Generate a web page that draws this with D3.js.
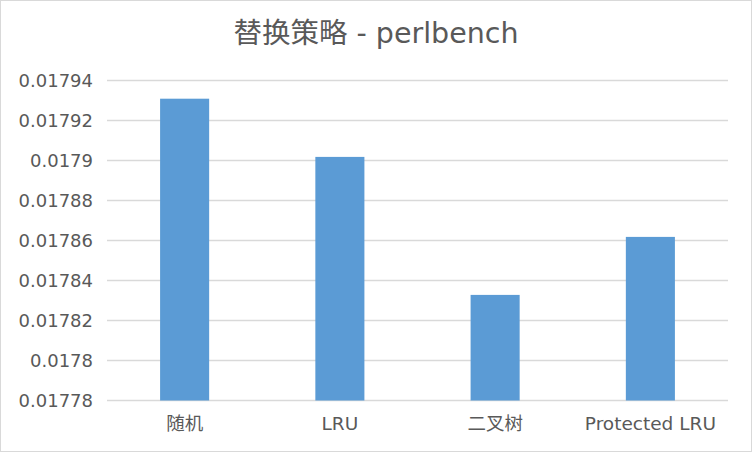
<!DOCTYPE html>
<html>
<head>
<meta charset="utf-8">
<script src="https://cdn.jsdelivr.net/npm/d3@7"></script>
<style>
  body { margin: 0; background: #fff; }
  svg text { font-family: "DejaVu Sans", "Noto Sans CJK SC", sans-serif; fill: #595959; }
</style>
</head>
<body>
<svg width="752" height="452"></svg>
<script>
var title = "替换策略 - perlbench";
var categories = ["随机", "LRU", "二叉树", "Protected LRU"];
var values = [0.0179309, 0.0179018, 0.0178328, 0.0178618];
var yTicks = [0.01778, 0.0178, 0.01782, 0.01784, 0.01786, 0.01788, 0.0179, 0.01792, 0.01794];

var svg = d3.select("svg");
var margin = {top: 80.5, right: 24, bottom: 51.5, left: 107};
var width = 752 - margin.left - margin.right;
var height = 452 - margin.top - margin.bottom;

// chart border
svg.append("rect")
    .attr("x", 0.5).attr("y", 0.5)
    .attr("width", 751).attr("height", 451)
    .attr("fill", "#fff")
    .attr("stroke", "#d9d9d9");

svg.append("text")
    .attr("x", 376)
    .attr("y", 43)
    .attr("text-anchor", "middle")
    .attr("font-size", 28.5)
    .text(title);

var group = svg.append("g").attr("transform", "translate(" + margin.left + "," + margin.top + ")");

var xscale = d3.scaleBand()
    .domain(categories)
    .range([0, width])
    .paddingInner(0.684)
    .paddingOuter(0.342);
var yscale = d3.scaleLinear()
    .domain([0.01778, 0.01794])
    .range([height, 0]);

// gridlines
group.append("g")
    .selectAll("line")
    .data(yTicks)
    .enter().append("line")
    .attr("x1", 0)
    .attr("x2", width)
    .attr("y1", function(d) { return yscale(d); })
    .attr("y2", function(d) { return yscale(d); })
    .attr("stroke", "#d9d9d9")
    .attr("stroke-width", 1.3);

group.append("g")
    .selectAll("rect")
    .data(values)
    .enter().append("rect")
    .attr("x", function(d, i) { return xscale(categories[i]); })
    .attr("y", function(d) { return yscale(d); })
    .attr("width", xscale.bandwidth())
    .attr("height", function(d) { return yscale(0.01778) - yscale(d); })
    .attr("fill", "#5b9bd5");

var yAxis = d3.axisLeft(yscale)
    .tickValues(yTicks)
    .tickSize(0)
    .tickPadding(14)
    .tickFormat(function(d) { return String(+d.toFixed(5)); });
group.append("g")
    .attr("class", "y_axis")
    .call(yAxis)
    .call(function(g) { g.select(".domain").remove(); })
    .selectAll("text")
    .attr("font-size", 18);

var xAxis = d3.axisBottom(xscale).tickSize(0).tickPadding(16);
group.append("g")
    .attr("class", "x_axis")
    .attr("transform", "translate(0," + height + ")")
    .call(xAxis)
    .call(function(g) { g.select(".domain").remove(); })
    .selectAll("text")
    .attr("font-size", 18.5);

group.selectAll(".y_axis, .x_axis").attr("font-family", null);
</script>
</body>
</html>
